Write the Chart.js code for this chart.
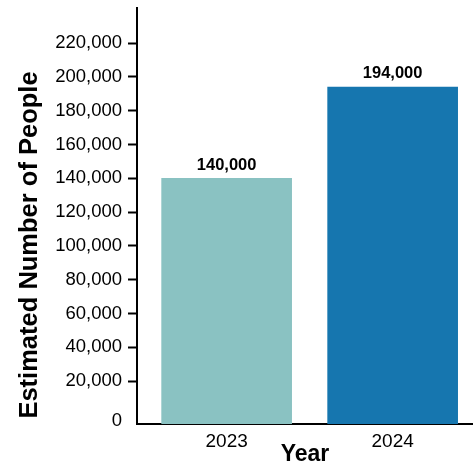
<!DOCTYPE html>
<html>
<head>
<meta charset="utf-8">
<script src="https://cdn.jsdelivr.net/npm/chart.js@4.4.1/dist/chart.umd.min.js"></script>
<style>
  html, body { margin: 0; padding: 0; background: #fff; }
  #wrap { width: 473px; height: 468px; }
</style>
</head>
<body>
<div id="wrap"><canvas id="chart" width="473" height="468"></canvas></div>
<script>
const years = ['2023', '2024'];
const people = [140000, 194000];
const barColors = ['#8AC2C2', '#1676AF'];
const yTicks = [0, 20000, 40000, 60000, 80000, 100000, 120000, 140000, 160000, 180000, 200000, 220000];
const yTitle = 'Estimated Number of People';
const xTitle = 'Year';

const yMin = -5300;
const yMax = 240700;
const zeroLabelAt = -3500; // the "0" label sits a little below the zero line

const valueLabels = {
  id: 'valueLabels',
  afterDatasetsDraw(chart) {
    const ctx = chart.ctx;
    const meta = chart.getDatasetMeta(0);
    ctx.save();
    ctx.font = 'bold 16.5px "Liberation Sans", Arial, sans-serif';
    ctx.fillStyle = '#000';
    ctx.textAlign = 'center';
    ctx.textBaseline = 'bottom';
    meta.data.forEach((bar, i) => {
      ctx.fillText(people[i].toLocaleString('en-US'), bar.x, bar.y - 5);
    });
    ctx.restore();
  }
};

// y title sits a bit lower than the plot's middle in the original
const yAxisTitle = {
  id: 'yAxisTitle',
  afterDraw(chart) {
    const ctx = chart.ctx;
    ctx.save();
    ctx.translate(30, 245);
    ctx.rotate(-Math.PI / 2);
    ctx.font = 'bold 25.5px "Liberation Sans", Arial, sans-serif';
    ctx.fillStyle = '#000';
    ctx.textAlign = 'center';
    ctx.textBaseline = 'middle';
    ctx.fillText(yTitle, 0, 0);
    ctx.restore();
  }
};

const ctx = document.getElementById('chart').getContext('2d');
const myChart = new Chart(ctx, {
  type: 'bar',
  data: {
    datasets: [{
      data: people.map((v, i) => ({ x: i, y: v })),
      backgroundColor: barColors,
      borderWidth: 0,
      base: yMin,
      barThickness: 130
    }]
  },
  options: {
    responsive: false,
    animation: false,
    layout: { padding: { top: 8, right: 0, left: 0, bottom: 0 } },
    plugins: {
      legend: { display: false },
      tooltip: { enabled: false }
    },
    scales: {
      x: {
        type: 'linear',
        offset: false,
        min: -0.54,
        max: 1.484,
        grid: { display: false, offset: false },
        border: { display: true, color: '#000', width: 2 },
        afterBuildTicks: (scale) => {
          scale.ticks = years.map((y, i) => ({ value: i }));
        },
        ticks: {
          color: '#000',
          font: { family: '"Liberation Sans", Arial, sans-serif', size: 19 },
          padding: -2,
          maxRotation: 0,
          autoSkip: false,
          callback: (v) => years[v]
        },
        title: {
          display: true,
          text: xTitle,
          color: '#000',
          font: { family: '"Liberation Sans", Arial, sans-serif', size: 23, weight: 'bold' },
          padding: { top: -4, bottom: 0 }
        },
        afterFit: (scale) => { scale.height = 44; scale.paddingLeft = 0; scale.paddingRight = 0; }
      },
      y: {
        min: yMin,
        max: yMax,
        afterBuildTicks: (scale) => {
          scale.ticks = yTicks.map(v => ({ value: v === 0 ? zeroLabelAt : v }));
        },
        grid: {
          drawOnChartArea: false,
          drawTicks: true,
          tickLength: 9,
          tickWidth: 2,
          tickColor: (c) => (c.tick && c.tick.value < 0) ? 'rgba(0,0,0,0)' : '#000'
        },
        border: { display: true, color: '#000', width: 2 },
        ticks: {
          color: '#000',
          font: { family: '"Liberation Sans", Arial, sans-serif', size: 18.5 },
          padding: 6,
          autoSkip: false,
          callback: (v) => v < 0 ? '0' : v.toLocaleString('en-US')
        },
        afterFit: (scale) => { scale.width = 137; scale.paddingTop = 0; scale.paddingBottom = 0; }
      }
    }
  },
  plugins: [valueLabels, yAxisTitle]
});
</script>
</body>
</html>
